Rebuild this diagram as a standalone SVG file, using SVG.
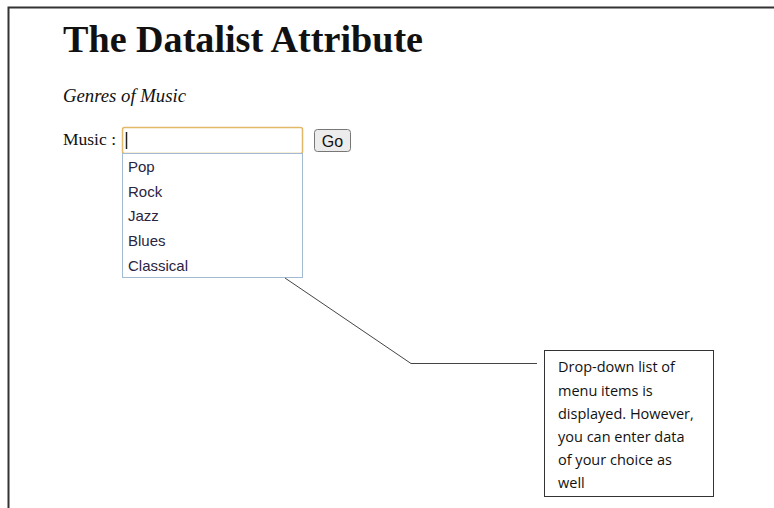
<svg xmlns="http://www.w3.org/2000/svg" width="774" height="508" viewBox="0 0 774 508">
<style>
.serif{font-family:"Liberation Serif","Times New Roman",serif;fill:#111}
.item{font-family:"Liberation Sans",Arial,sans-serif;font-size:15px;fill:#2a2440}
.note{font-family:"Open Sans","Liberation Sans",sans-serif;font-size:14.5px;fill:#111}
.conn{fill:none;stroke:#444;stroke-width:1}
</style>
<rect width="774" height="508" fill="#fff"/>
<g id="frame"><path d="M8.5 508 V7.5 H774" fill="none" stroke="#333" stroke-width="2"/></g>
<g id="title"><text class="serif" x="63" y="52" font-size="38" font-weight="bold" textLength="360" lengthAdjust="spacingAndGlyphs">The Datalist Attribute</text></g>
<g id="subtitle"><text class="serif" x="63" y="102" font-size="18.5" font-style="italic" textLength="123" lengthAdjust="spacingAndGlyphs">Genres of Music</text></g>
<g id="music-label"><text class="serif" x="63" y="145" font-size="17.5">Music :</text></g>
<g id="input">
<rect x="122.5" y="127.5" width="180" height="26" rx="2" fill="#fff" stroke="#e3b868" stroke-width="1.5"/>
<line x1="126.5" y1="132" x2="126.5" y2="149" stroke="#222" stroke-width="1.5"/>
</g>
<g id="go-button">
<rect x="314.5" y="129.5" width="36" height="22" rx="3" fill="#ececec" stroke="#777" stroke-width="1"/>
<text x="332.5" y="146.5" text-anchor="middle" font-family="Liberation Sans,Arial,sans-serif" font-size="16" fill="#111">Go</text>
</g>
<g id="dropdown">
<rect x="122.5" y="153.5" width="180" height="124" fill="#fff" stroke="#a3bad3" stroke-width="1"/>
<text class="item" x="128" y="172">Pop</text>
<text class="item" x="128" y="197">Rock</text>
<text class="item" x="128" y="221">Jazz</text>
<text class="item" x="128" y="246">Blues</text>
<text class="item" x="128" y="271">Classical</text>
</g>
<g id="connectors">
<path class="conn" d="M285 278 L411 363.5 H537"/>
</g>
<g id="callout">
<rect x="544.5" y="350.5" width="169" height="146" fill="#fff" stroke="#333" stroke-width="1"/>
<text class="note" x="558" y="372">Drop-down list of</text>
<text class="note" x="558" y="396">menu items is</text>
<text class="note" x="558" y="419">displayed. However,</text>
<text class="note" x="558" y="442">you can enter data</text>
<text class="note" x="558" y="465">of your choice as</text>
<text class="note" x="558" y="488">well</text>
</g>
</svg>
